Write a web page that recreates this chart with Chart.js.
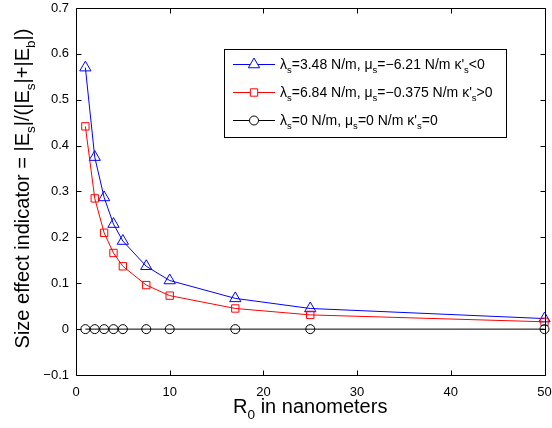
<!DOCTYPE html>
<html>
<head>
<meta charset="utf-8">
<script src="https://cdn.jsdelivr.net/npm/chart.js@4.4.0/dist/chart.umd.min.js"></script>
<style>
  html, body { margin: 0; padding: 0; background: #fff; }
  #wrap { width: 552px; height: 428px; }
</style>
</head>
<body>
<div id="wrap"><canvas id="c" width="552" height="428"></canvas></div>
<script>
// ---- data ----
const xValues = [1, 2, 3, 4, 5, 7.5, 10, 17, 25, 50];
const seriesBlue = [0.570, 0.375, 0.287, 0.229, 0.192, 0.137, 0.106, 0.067, 0.045, 0.023];
const seriesRed = [0.442, 0.285, 0.210, 0.166, 0.137, 0.096, 0.073, 0.045, 0.031, 0.016];
const seriesBlack = [0, 0, 0, 0, 0, 0, 0, 0, 0, 0];
const xTicks = [0, 10, 20, 30, 40, 50];
const yTicks = [-0.1, 0, 0.1, 0.2, 0.3, 0.4, 0.5, 0.6, 0.7];

// rich-text labels: [text, isSubscript]
const legendLabels = [
  [['λ', 0], ['s', 1], ['=3.48 N/m, μ', 0], ['s', 1], ['=−6.21 N/m κ\'', 0], ['s', 1], ['<0', 0]],
  [['λ', 0], ['s', 1], ['=6.84 N/m, μ', 0], ['s', 1], ['=−0.375 N/m κ\'', 0], ['s', 1], ['>0', 0]],
  [['λ', 0], ['s', 1], ['=0 N/m, μ', 0], ['s', 1], ['=0 N/m κ\'', 0], ['s', 1], ['=0', 0]]
];
const xTitle = [['R', 0], ['0', 1], [' in nanometers', 0]];
const yTitle = [['Size effect indicator = |E', 0], ['s', 1], ['|/(|E', 0], ['s', 1], ['|+|E', 0], ['b', 1], ['|)', 0]];

const FONT = '"Liberation Sans", Arial, Helvetica, sans-serif';

function toPts(ys) { return xValues.map((x, i) => ({ x: x, y: ys[i] })); }
function fmt(v) { return (Math.round(v * 10) / 10).toString().replace('-', '−'); }

function richWidth(ctx, segs, size) {
  let w = 0;
  for (const [t, sub] of segs) {
    ctx.font = (sub ? size * 0.68 : size) + 'px ' + FONT;
    w += ctx.measureText(t).width;
  }
  return w;
}
function drawRich(ctx, segs, x, y, size, align) {
  const w = richWidth(ctx, segs, size);
  let cx = align === 'center' ? x - w / 2 : x;
  ctx.textBaseline = 'alphabetic';
  ctx.textAlign = 'left';
  for (const [t, sub] of segs) {
    ctx.font = (sub ? size * 0.68 : size) + 'px ' + FONT;
    ctx.fillText(t, cx, y + (sub ? size * 0.3 : 0));
    cx += ctx.measureText(t).width;
  }
}

const styles = [
  { color: '#0000ff', pointStyle: 'triangle', radius: 6.5 },
  { color: '#ff0000', pointStyle: 'rect', radius: 5.2 },
  { color: '#000000', pointStyle: 'circle', radius: 4.5 }
];

const decor = {
  id: 'decor',
  afterDatasetsDraw(chart) {
    const ctx = chart.ctx;
    const a = chart.chartArea;
    const xs = chart.scales.x, ys = chart.scales.y;
    ctx.save();
    // box
    ctx.strokeStyle = '#000';
    ctx.lineWidth = 1;
    const L = Math.round(a.left) + 0.5, R = Math.round(a.right) + 0.5;
    const T = Math.round(a.top) + 0.5, B = Math.round(a.bottom) + 0.5;
    ctx.beginPath();
    ctx.rect(L, T, R - L, B - T);
    ctx.stroke();
    // inward ticks
    const tl = 5;
    ctx.beginPath();
    xs.ticks.forEach(t => {
      const px = Math.round(xs.getPixelForValue(t.value)) + 0.5;
      ctx.moveTo(px, B); ctx.lineTo(px, B - tl);
      ctx.moveTo(px, T); ctx.lineTo(px, T + tl);
    });
    ys.ticks.forEach(t => {
      const py = Math.round(ys.getPixelForValue(t.value)) + 0.5;
      ctx.moveTo(L, py); ctx.lineTo(L + tl, py);
      ctx.moveTo(R, py); ctx.lineTo(R - tl, py);
    });
    ctx.stroke();

    // legend box
    const lx = 224.5, ly = 49.5, lw = 282, lh = 88;
    ctx.fillStyle = '#fff';
    ctx.fillRect(lx, ly, lw, lh);
    ctx.strokeRect(lx, ly, lw, lh);
    const rows = [64, 92, 120];
    legendLabels.forEach((segs, i) => {
      const st = styles[i];
      const y = rows[i] + 0.5;
      ctx.strokeStyle = st.color;
      ctx.lineWidth = 1;
      ctx.beginPath();
      ctx.moveTo(233, y); ctx.lineTo(275, y);
      ctx.stroke();
      ctx.fillStyle = '#fff';
      Chart.helpers.drawPoint(ctx, { pointStyle: st.pointStyle, radius: st.radius, rotation: 0, borderWidth: 1 }, 254, y);
      ctx.fillStyle = '#000';
      drawRich(ctx, segs, 280, rows[i] + 5, 14, 'left');
    });

    // axis titles
    ctx.fillStyle = '#000';
    drawRich(ctx, xTitle, (a.left + a.right) / 2, 413, 20, 'center');
    ctx.save();
    ctx.translate(29, (a.top + a.bottom) / 2 - 3);
    ctx.rotate(-Math.PI / 2);
    drawRich(ctx, yTitle, 0, 0, 20, 'center');
    ctx.restore();
    ctx.restore();
  }
};

const mk = (ys, i) => ({
  data: toPts(ys),
  showLine: true,
  borderColor: styles[i].color,
  backgroundColor: 'rgba(0,0,0,0)',
  pointBackgroundColor: 'rgba(0,0,0,0)',
  pointBorderColor: styles[i].color,
  pointStyle: styles[i].pointStyle,
  pointRadius: styles[i].radius,
  pointBorderWidth: 1,
  borderWidth: 1,
  tension: 0,
  clip: false
});

new Chart(document.getElementById('c'), {
  type: 'scatter',
  data: { datasets: [mk(seriesBlack, 2), mk(seriesRed, 1), mk(seriesBlue, 0)] },
  options: {
    responsive: false,
    animation: false,
    events: [],
    layout: { padding: { left: 0, top: 8, right: 7, bottom: 0 } },
    plugins: { legend: { display: false }, tooltip: { enabled: false } },
    scales: {
      x: {
        type: 'linear', min: 0, max: 50,
        afterBuildTicks: s => { s.ticks = xTicks.map(v => ({ value: v })); },
        afterFit: s => { s.height = 53; s.paddingLeft = 0; s.paddingRight = 0; },
        grid: { display: false, drawTicks: false },
        border: { display: false },
        ticks: { color: '#000', font: { family: FONT, size: 13 }, padding: 10, maxRotation: 0, callback: v => fmt(v) }
      },
      y: {
        type: 'linear', min: -0.1, max: 0.7,
        afterBuildTicks: s => { s.ticks = yTicks.map(v => ({ value: v })); },
        afterFit: s => { s.width = 76; s.paddingTop = 0; s.paddingBottom = 0; },
        grid: { display: false, drawTicks: false },
        border: { display: false },
        ticks: { color: '#000', font: { family: FONT, size: 13 }, padding: 7, callback: v => fmt(v) }
      }
    }
  },
  plugins: [decor]
});
</script>
</body>
</html>
